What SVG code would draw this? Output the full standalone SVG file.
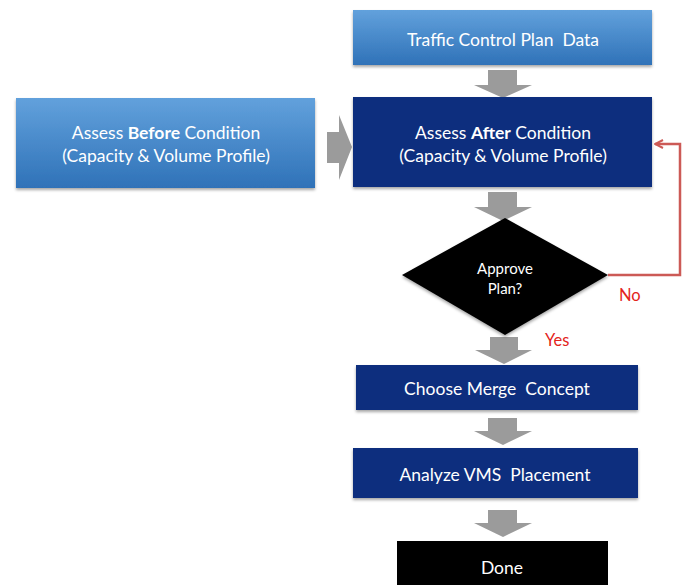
<svg xmlns="http://www.w3.org/2000/svg" width="690" height="585" viewBox="0 0 690 585">
<style>
.t{font-family:Lato,"Open Sans","Liberation Sans",sans-serif;fill:#fff;text-anchor:middle;dominant-baseline:central;white-space:pre}
.m{font-size:17.5px}
.s{font-size:15px}
.lbl{font-family:Lato,"Open Sans","Liberation Sans",sans-serif;fill:#e3241b;font-size:16.5px;dominant-baseline:central}
.light{fill:url(#lg)}
.dark{fill:#0b2f7e}
.gray{fill:#9b9b9b}
</style>
<defs>
<linearGradient id="lg" x1="0" y1="0" x2="0" y2="1">
<stop offset="0" stop-color="#62a1dc"/>
<stop offset="1" stop-color="#2f72b8"/>
</linearGradient>
<filter id="sh" x="-10%" y="-10%" width="120%" height="130%">
<feDropShadow dx="0" dy="2" stdDeviation="1.5" flood-color="#000" flood-opacity="0.35"/>
</filter>
<marker id="ah" markerWidth="10" markerHeight="10" refX="9" refY="5" orient="auto" markerUnits="userSpaceOnUse">
<path d="M1,1 L9,5 L1,9" fill="none" stroke="#cc5a56" stroke-width="2"/>
</marker>
</defs>
<g id="connectors">
<polygon class="gray" points="488,70 517,70 517,85 532,85 503,98 474,85 488,85"/>
<polygon class="gray" points="327,132 339,132 339,115 352,147 339,180 339,163 327,163"/>
<polygon class="gray" points="488,192 517,192 517,207 532,207 503,221 474,207 488,207"/>
<polygon class="gray" points="490,337 518,337 518,350 532,350 504,364 475,350 490,350"/>
<polygon class="gray" points="488,418 517,418 517,431 532,431 503,445 474,431 488,431"/>
<polygon class="gray" points="488,510 517,510 517,523 532,523 503,537 474,523 488,523"/>
<polyline points="608,275 680,275 680,144 655,144" fill="none" stroke="#cc5a56" stroke-width="2.5" marker-end="url(#ah)"/>
<text class="lbl" x="619" y="295">No</text>
<text class="lbl" x="545" y="340">Yes</text>
</g>
<g id="traffic-data">
<rect class="light" x="353" y="10" width="299" height="55" filter="url(#sh)"/>
<text class="t m" x="503" y="39" xml:space="preserve">Traffic Control Plan  Data</text>
</g>
<g id="assess-before">
<rect class="light" x="16" y="98" width="299" height="90" filter="url(#sh)"/>
<text class="t m" x="166" y="132">Assess <tspan font-weight="bold">Before</tspan> Condition</text>
<text class="t m" x="166" y="155">(Capacity &amp; Volume Profile)</text>
</g>
<g id="assess-after">
<rect class="dark" x="353" y="97" width="299" height="90" filter="url(#sh)"/>
<text class="t m" x="503" y="132">Assess <tspan font-weight="bold">After</tspan> Condition</text>
<text class="t m" x="503" y="155">(Capacity &amp; Volume Profile)</text>
</g>
<g id="approve">
<polygon points="505,218 608,275 505,335 402,275" fill="#000" filter="url(#sh)"/>
<text class="t s" x="505" y="268">Approve</text>
<text class="t s" x="505" y="288">Plan?</text>
</g>
<g id="merge">
<rect class="dark" x="356" y="365" width="282" height="45" filter="url(#sh)"/>
<text class="t m" x="497" y="388" xml:space="preserve">Choose Merge  Concept</text>
</g>
<g id="vms">
<rect class="dark" x="353" y="448" width="285" height="50" filter="url(#sh)"/>
<text class="t m" x="495" y="474" xml:space="preserve">Analyze VMS  Placement</text>
</g>
<g id="done">
<rect x="397" y="541" width="211" height="50" fill="#000"/>
<text class="t m" x="502" y="567">Done</text>
</g>
</svg>
